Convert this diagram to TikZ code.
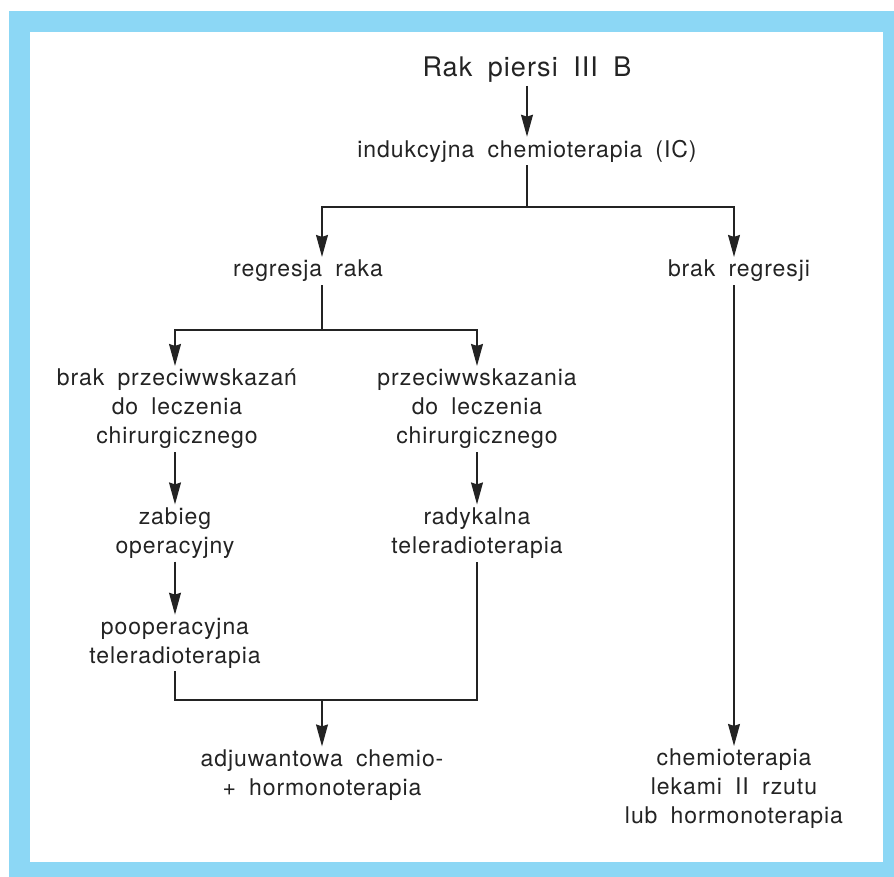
\documentclass[tikz,border=0pt]{standalone}
\usepackage{fontspec}
\setmainfont{TeX Gyre Heros}[WordSpace=1.8,LetterSpace=4]
\usetikzlibrary{arrows.meta}
\definecolor{rahmenblau}{RGB}{140,215,245}
\definecolor{schrift}{RGB}{35,35,35}
\tikzset{
  txt/.style={align=center, inner sep=3pt, text=schrift, font=\fontsize{23}{29}\selectfont},
  pfeil/.style={-{Stealth[length=22pt,width=12pt,inset=2pt]}, line width=1.2pt, draw=schrift},
  linie/.style={line width=1.2pt, draw=schrift}
}
\begin{document}
\begin{tikzpicture}[x=1pt,y=-1pt]
		% zeichne Rahmen
		\useasboundingbox (0,0) rectangle (894,877);
		\fill[rahmenblau] (9,11) rectangle (894,877);
		\fill[white] (30,32) rectangle (883,862);

		% zeichne Knoten
		\node[txt, font=\fontsize{27}{32}\selectfont] (rak) at (527,70) {Rak piersi III B};
		\node[txt] (indukcja) at (527,151) {indukcyjna chemioterapia (IC)};
		\node[txt] (regresja) at (308,271) {regresja raka};
		\node[txt] (brakreg) at (739,271) {brak regresji};
		\node[txt] (brakprzec) at (177,409) {brak przeciwwskazań\\do leczenia\\chirurgicznego};
		\node[txt] (przec) at (477,409) {przeciwwskazania\\do leczenia\\chirurgicznego};
		\node[txt] (zabieg) at (175,533) {zabieg\\operacyjny};
		\node[txt] (radykalna) at (477,533) {radykalna\\teleradioterapia};
		\node[txt] (pooper) at (175,643) {pooperacyjna\\teleradioterapia};
		\node[txt] (adjuw) at (322,775) {adjuwantowa chemio-\\+ hormonoterapia};
		\node[txt] (drugi) at (734,789) {chemioterapia\\lekami II rzutu\\lub hormonoterapia};

		% Verzweigungspunkte
		\coordinate (split1) at (527,207);
		\coordinate (split2) at (322,330);
		\coordinate (join1) at (322,700);

		% zeichne Verbindungen
		\draw[pfeil] (rak) -- (indukcja);
		\draw[linie] (indukcja) -- (split1);
		\draw[pfeil] (split1) -| (regresja.north -| split2);
		\draw[pfeil] (split1) -| (brakreg.north -| drugi);
		\draw[linie] (regresja.south -| split2) -- (split2);
		\draw[pfeil] (split2) -| (brakprzec.north -| zabieg);
		\draw[pfeil] (split2) -| (przec);
		\draw[pfeil] (brakprzec.south -| zabieg) -- (zabieg);
		\draw[pfeil] (przec) -- (radykalna);
		\draw[pfeil] (zabieg) -- (pooper);
		\draw[linie] (pooper) |- (join1) -| (radykalna);
		\draw[pfeil] (join1) -- (adjuw);
		\draw[pfeil] (brakreg.south -| drugi) -- (drugi);
	\end{tikzpicture}
\end{document}
